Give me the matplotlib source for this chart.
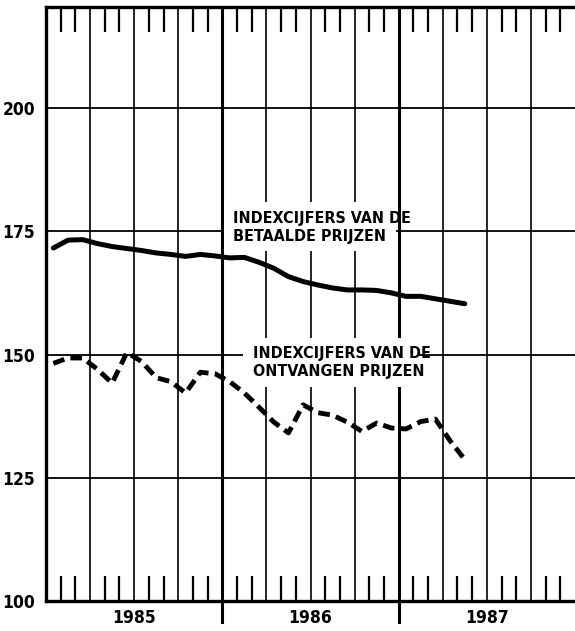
import numpy as np
import matplotlib
matplotlib.use("Agg")
import matplotlib.pyplot as plt
from matplotlib.patches import Rectangle

# Monthly index figures, Jan 1985 .. May 1987
months = np.arange(29) + 0.5  # mid-month, months since Jan 1985
betaald = [171.6, 173.2, 173.3, 172.5, 171.9, 171.5, 171.1, 170.6, 170.3, 169.9,
           170.3, 170.0, 169.6, 169.7, 168.7, 167.5, 165.8, 164.8, 164.1, 163.5,
           163.1, 163.1, 163.0, 162.5, 161.8, 161.8, 161.3, 160.8, 160.3]
ontvangen = [148.2, 149.3, 149.3, 147.0, 144.2, 150.4, 148.6, 145.3, 144.5, 142.2,
             146.4, 146.1, 144.5, 142.2, 139.3, 136.3, 134.1, 139.8, 138.2, 137.7,
             136.3, 134.4, 136.1, 135.1, 134.9, 136.4, 136.9, 132.5, 128.7]

years = ["1985", "1986", "1987"]
y_ticks = [100, 125, 150, 175, 200]

label_betaald = "INDEXCIJFERS VAN DE\nBETAALDE PRIJZEN"
label_ontvangen = "INDEXCIJFERS VAN DE\nONTVANGEN PRIJZEN"

FONT = ["DejaVu Sans"]

fig = plt.figure(figsize=(5.75, 6.31), dpi=100)
ax = fig.add_axes([0.08, 0.0475, 0.92, 0.9415])
ax.set_xlim(0, 36)
ax.set_ylim(100, 220.5)

# grid: quarters and value lines
for q in range(3, 36, 3):
    lw = 2.2 if q % 12 == 0 else 1.2
    ax.axvline(q, color="black", lw=lw, zorder=1)
for yv in y_ticks[1:]:
    ax.axhline(yv, color="black", lw=1.3, zorder=1)

# year boundaries reach below the axis
for yb in (12, 24):
    ax.axvline(yb, ymin=-0.036, ymax=0, color="black", lw=2.2, clip_on=False, zorder=1)

# white boxes behind the labels
ax.add_patch(Rectangle((12.08, 170.9), 11.75, 10.0, facecolor="white",
                       edgecolor="none", zorder=2))
ax.add_patch(Rectangle((13.4, 143.4), 12.0, 10.0, facecolor="white",
                       edgecolor="none", zorder=2))

ax.plot(months, betaald, color="black", lw=3.6, solid_capstyle="round",
        solid_joinstyle="round", zorder=3)
ax.plot(months, ontvangen, color="black", lw=3.5, dashes=(2.4, 1.3),
        dash_capstyle="butt", zorder=3)

ax.text(12.75, 179.2, label_betaald, ha="left", va="top", fontsize=11.5,
        family=FONT, stretch="condensed", fontweight="bold", linespacing=1.25,
        zorder=4)
ax.text(14.1, 151.8, label_ontvangen, ha="left", va="top", fontsize=11.5,
        family=FONT, stretch="condensed", fontweight="bold", linespacing=1.25,
        zorder=4)

# spines
for s in ("left", "bottom", "top"):
    ax.spines[s].set_linewidth(2.4)
ax.spines["right"].set_visible(False)

# ticks
ax.set_yticks(y_ticks)
ax.set_yticklabels([str(v) for v in y_ticks], family=FONT, fontsize=12.5,
                   fontweight="bold", stretch="condensed")
ax.tick_params(axis="y", length=0, pad=8)

ax.set_xticks([6, 18, 30])
ax.set_xticklabels(years, family=FONT, fontsize=12.5, fontweight="bold",
                   stretch="condensed")
minor = [m for m in range(1, 36) if m % 3 != 0]
ax.set_xticks(minor, minor=True)
ax.tick_params(axis="x", which="major", length=0, pad=6)
ax.tick_params(axis="x", which="minor", direction="in", length=18, width=1.6,
               top=True, bottom=True)

fig.savefig("out.png", dpi=100)
